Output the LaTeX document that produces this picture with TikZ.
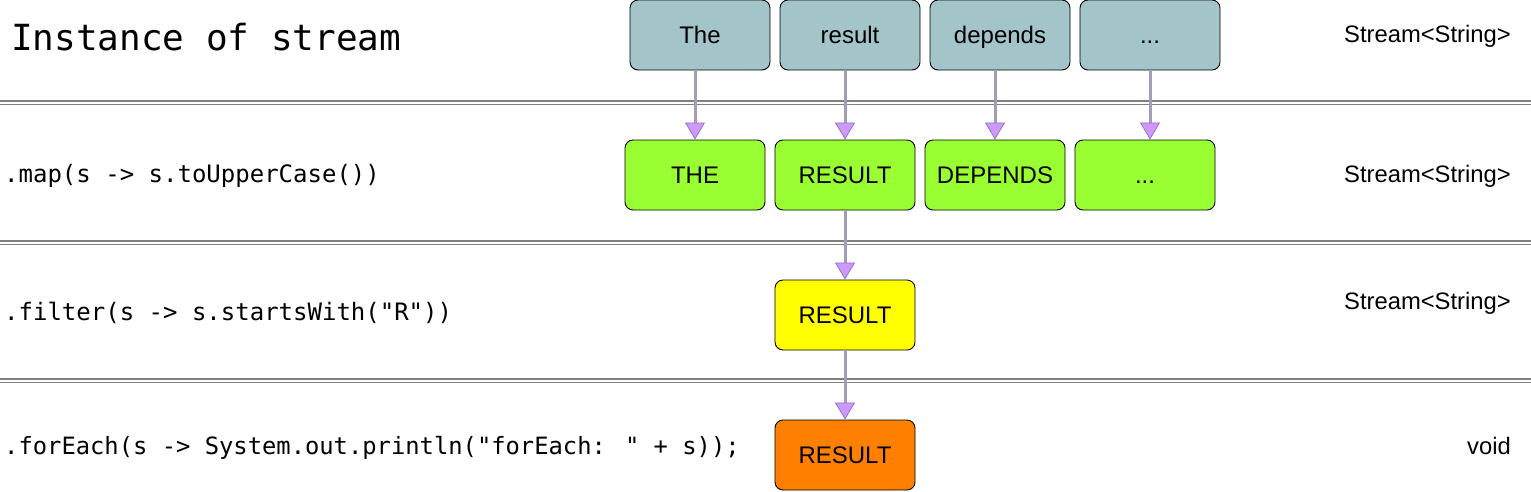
\documentclass[tikz,border=0pt]{standalone}
\usepackage{fontspec}
\setmainfont{Liberation Sans}
\newfontfamily\codefont{DejaVu Sans Mono}
\usetikzlibrary{arrows.meta,positioning}
\definecolor{wordfill}{HTML}{A3C4C9}
\definecolor{upperfill}{HTML}{99FF33}
\definecolor{filterfill}{HTML}{FFFF00}
\definecolor{eachfill}{HTML}{FF8000}
\definecolor{shaftcol}{HTML}{A49CB8}
\definecolor{tipfill}{HTML}{CC99FF}
\definecolor{tipline}{HTML}{9A70C8}
\definecolor{sepcol}{HTML}{808080}
\newcommand\moredots{...}
\tikzset{
  elem/.style={draw=black,line width=0.9pt,rounded corners=8pt,minimum width=140pt,
    minimum height=70pt,inner sep=0pt,text height=19pt,text depth=2pt,
    font=\fontsize{24}{28}\selectfont},
  flow/.style={shaftcol,line width=3pt,
    -{Triangle[width=20pt,length=17pt,line width=0.8pt,color=tipline,fill=tipfill]}},
  sep/.style={sepcol,line width=1.2pt},
  code/.style={anchor=west,inner sep=0pt,font=\codefont\fontsize{24}{28}\selectfont},
  kind/.style={anchor=east,inner sep=0pt,font=\fontsize{23.8}{28}\selectfont}
}
\begin{document}
\begin{tikzpicture}[x=1pt,y=-1pt]
  \useasboundingbox (0,0) rectangle (1531,491);

  % separators between the stages
  \foreach \ya/\yb in {101/104.5, 241/244.5, 379/382.5} {
    \draw[sep] (0,\ya) -- (1531,\ya);
    \draw[sep] (0,\yb) -- (1531,\yb);
  }

  % row labels
  \node[code,font=\codefont\fontsize{36}{40}\selectfont] (title) at (11,37) {Instance of stream};
  \node[code] (mapcode) at (4,176) {.map(s -> s.toUpperCase())};
  \node[code] (filtercode) at (4,313) {.filter(s -> s.startsWith("R"))};
  \node[code,font=\codefont\fontsize{23.8}{28}\selectfont] (eachcode) at (4,448)
    {.forEach(s -> System.out.println("forEach: " + s));};

  \node[kind] (type1) at (1511,36) {Stream<String>};
  \node[kind] (type2) at (1511,176) {Stream<String>};
  \node[kind] (type3) at (1511,303) {Stream<String>};
  \node[kind] (type4) at (1511,446) {void};

  % elements of the stream
  \foreach \i/\x/\w in {1/700/The, 2/850/result, 3/1000/depends, 4/1150/\moredots}
    \node[elem,fill=wordfill] (w\i) at (\x,35) {\w};
  \foreach \i/\x/\w in {1/695/THE, 2/845/RESULT, 3/995/DEPENDS, 4/1145/\moredots}
    \node[elem,fill=upperfill] (u\i) at (\x,175) {\w};
  \node[elem,fill=filterfill] (f1) at (845,315) {RESULT};
  \node[elem,fill=eachfill] (e1) at (845,455) {RESULT};

  % flow of the elements
  \foreach \i in {1,2,3}
    \draw[flow] (w\i.south -| u\i) -- (u\i.north);
  \draw[flow] (w4.south) -- (w4.south |- u4.north);
  \draw[flow] (u2.south) -- (f1.north);
  \draw[flow] (f1.south) -- (e1.north);
\end{tikzpicture}
\end{document}
